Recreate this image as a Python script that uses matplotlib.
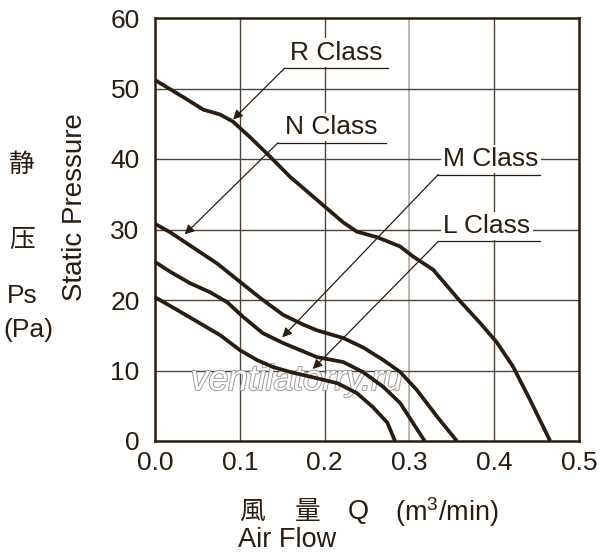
import matplotlib
matplotlib.use("Agg")
import matplotlib.pyplot as plt
import matplotlib.patheffects as pe

# ---- data ----
r_x = [0.0, 0.033, 0.057, 0.077, 0.092, 0.112, 0.136, 0.159, 0.191, 0.222, 0.238, 0.262, 0.289, 0.304, 0.328, 0.36, 0.383, 0.403, 0.422, 0.442, 0.466]
r_y = [51.2, 48.8, 47.0, 46.3, 45.3, 43.1, 40.3, 37.5, 34.2, 31.0, 29.7, 28.9, 27.6, 26.2, 24.3, 19.8, 16.8, 14.0, 10.6, 5.9, 0.0]

n_x = [0.0, 0.018, 0.033, 0.053, 0.073, 0.1, 0.124, 0.151, 0.175, 0.191, 0.222, 0.245, 0.269, 0.289, 0.309, 0.333, 0.356]
n_y = [30.8, 29.6, 28.4, 26.8, 25.2, 22.6, 20.3, 17.9, 16.5, 15.7, 14.6, 13.3, 11.5, 9.8, 7.2, 3.4, 0.0]

m_x = [0.0, 0.018, 0.041, 0.065, 0.085, 0.104, 0.127, 0.151, 0.179, 0.191, 0.222, 0.245, 0.269, 0.289, 0.304, 0.318]
m_y = [25.4, 24.0, 22.4, 21.1, 19.7, 17.6, 15.3, 13.9, 12.5, 11.9, 11.2, 9.8, 7.7, 5.4, 2.6, 0.0]

l_x = [0.0, 0.026, 0.053, 0.077, 0.1, 0.12, 0.139, 0.159, 0.191, 0.215, 0.238, 0.257, 0.274, 0.283]
l_y = [20.4, 18.6, 16.7, 15.0, 12.9, 11.5, 10.5, 9.8, 8.9, 8.2, 6.8, 4.8, 2.6, 0.0]

series = [(r_x, r_y), (n_x, n_y), (m_x, m_y), (l_x, l_y)]

class_labels = ["R Class", "N Class", "M Class", "L Class"]
# underline left x, underline right x, underline y, arrow tip (x, y)
label_ul_x0 = [0.153, 0.145, 0.334, 0.334]
label_ul_x1 = [0.275, 0.272, 0.454, 0.454]
label_ul_y = [52.9, 42.3, 37.8, 28.3]
label_tip_x = [0.092, 0.035, 0.150, 0.186]
label_tip_y = [45.6, 29.3, 14.7, 10.2]
label_text_x = [0.159, 0.153, 0.340, 0.340]

x_ticks = [0.0, 0.1, 0.2, 0.3, 0.4, 0.5]
x_ticklabels = ["0.0", "0.1", "0.2", "0.3", "0.4", "0.5"]
y_ticks = [0, 10, 20, 30, 40, 50, 60]
y_ticklabels = ["0", "10", "20", "30", "40", "50", "60"]

# ---- styling ----
INK = "#2b1c10"
GRID = "#4f4439"
LATIN = "Liberation Sans"
CJK = "Noto Sans CJK JP"
plt.rcParams['font.family'] = [LATIN, CJK, 'DejaVu Sans']
plt.rcParams['mathtext.fontset'] = 'custom'
plt.rcParams['mathtext.rm'] = LATIN

fig = plt.figure(figsize=(6.0, 5.58), dpi=100)
ax = fig.add_axes([155/600, 1-441/558, (579-155)/600, (441-18)/558])
ax.set_xlim(0, 0.5)
ax.set_ylim(0, 60)

# grid
for gx in [0.1, 0.2, 0.4]:
    ax.axvline(gx, color=GRID, lw=1.0, zorder=1)
ax.axvline(0.3, color="#b0aba6", lw=1.2, zorder=1)
for gy in [10, 20, 30, 40, 50]:
    ax.axhline(gy, color=GRID, lw=1.0, zorder=1)

for s in ax.spines.values():
    s.set_color(INK)
    s.set_linewidth(1.8)

ax.set_xticks(x_ticks)
ax.set_xticklabels(x_ticklabels)
ax.set_yticks(y_ticks)
ax.set_yticklabels(y_ticklabels)
ax.tick_params(length=0, labelsize=19, colors=INK, pad=7)
ax.tick_params(axis='y', pad=11)

# watermark
ax.text(0.167, 8.6, "ventilatorry.ru", fontsize=25.5, style='italic', color='white',
        ha='center', va='center', zorder=2, family=LATIN,
        path_effects=[pe.withStroke(linewidth=1.4, foreground='#9a9a9a')])

# curves
for xs, ys in series:
    ax.plot(xs, ys, color=INK, lw=2.7, solid_joinstyle='round', solid_capstyle='butt', zorder=4, clip_on=False)

# labels with underline + arrow
for i, lab in enumerate(class_labels):
    ax.text(label_text_x[i], label_ul_y[i] + 1.2, lab, fontsize=19, color=INK,
            ha='left', va='baseline', zorder=3,
            bbox=dict(facecolor='white', edgecolor='none', pad=1.5))
    ax.plot([label_ul_x0[i], label_ul_x1[i]], [label_ul_y[i], label_ul_y[i]],
            color=INK, lw=0.9, zorder=3.5)
    ax.annotate("", xy=(label_tip_x[i], label_tip_y[i]),
                xytext=(label_ul_x0[i], label_ul_y[i]),
                arrowprops=dict(arrowstyle='-|>', color=INK, lw=0.9,
                                mutation_scale=14, shrinkA=0, shrinkB=0),
                zorder=3.5)

# axis titles
fig.text(22/600, 1-165/558, "静", fontsize=18.5, family=CJK, color=INK, ha='center', va='center')
fig.text(22/600, 1-240/558, "压", fontsize=18.5, family=CJK, color=INK, ha='center', va='center')
fig.text(22/600, 1-296/558, "Ps", fontsize=19, color=INK, ha='center', va='center')
fig.text(28/600, 1-330/558, "(Pa)", fontsize=19, color=INK, ha='center', va='center')
fig.text(75/600, 1-207/558, "Static Pressure", fontsize=20, color=INK, rotation=90,
         ha='center', va='center')

fig.text(252/600, 1-512/558, "風", fontsize=18.5, family=CJK, color=INK, ha='center', va='center')
fig.text(308/600, 1-512/558, "量", fontsize=18.5, family=CJK, color=INK, ha='center', va='center')
fig.text(358/600, 1-512/558, "Q", fontsize=19.5, color=INK, ha='center', va='center')
fig.text(395/600, 1-512/558, r"(m$^\mathregular{3}$/min)", fontsize=19.5, color=INK, ha='left', va='center')
fig.text(238/600, 1-540/558, "Air Flow", fontsize=19.5, color=INK, ha='left', va='center')

fig.savefig("out.png", dpi=100, facecolor='white')
